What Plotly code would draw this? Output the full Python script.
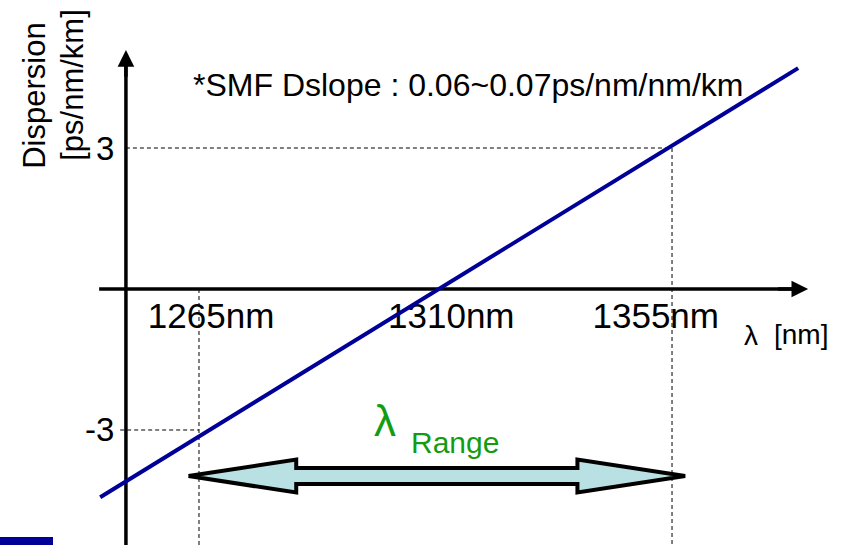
import plotly.graph_objects as go

# ---- data ----
wavelength_nm = [1246.2, 1379.0]          # ends of the dispersion line
dispersion = [-4.43, 4.70]                 # ps/nm/km at those ends
tick_wavelengths = [1265, 1310, 1355]
tick_wavelength_labels = ["1265nm", "1310nm", "1355nm"]
disp_ticks = [3, -3]
disp_tick_labels = ["3", "-3"]
range_lo, range_hi = 1265, 1355
slope_note = "*SMF Dslope : 0.06~0.07ps/nm/nm/km"

FONT = "Liberation Sans, Arial, sans-serif"
NAVY = "#000099"
GREEN = "#129c12"

X_RANGE = [1227.14, 1387.34]
Y_RANGE = [-5.447, 6.149]
Y_AXIS_X = 1251.1          # where the vertical axis sits
X_AXIS_START = 1246.0
X_AXIS_TIP = 1380.9
Y_AXIS_TIP = 5.085
BOTTOM = Y_RANGE[0] - 0.3

fig = go.Figure()

# dashed guide lines
dash = dict(color="black", width=1, dash="4px,3px")
fig.add_trace(go.Scatter(x=[range_lo, range_lo], y=[0, BOTTOM], mode="lines", line=dash, hoverinfo="skip"))
fig.add_trace(go.Scatter(x=[range_hi, range_hi], y=[disp_ticks[0], BOTTOM], mode="lines", line=dash, hoverinfo="skip"))
fig.add_trace(go.Scatter(x=[Y_AXIS_X, range_hi], y=[disp_ticks[0], disp_ticks[0]], mode="lines", line=dash, hoverinfo="skip"))
fig.add_trace(go.Scatter(x=[1250.0, range_lo], y=[disp_ticks[1], disp_ticks[1]], mode="lines", line=dash, hoverinfo="skip"))

# axes lines
fig.add_trace(go.Scatter(x=[X_AXIS_START, X_AXIS_TIP - 2], y=[0, 0], mode="lines",
                         line=dict(color="black", width=3.5), hoverinfo="skip"))
fig.add_trace(go.Scatter(x=[Y_AXIS_X, Y_AXIS_X], y=[BOTTOM, Y_AXIS_TIP - 0.2], mode="lines",
                         line=dict(color="black", width=3.5), hoverinfo="skip"))

# wavelength tick labels
fig.add_trace(go.Scatter(x=[t + d for t, d in zip(tick_wavelengths, [2.3, 3.0, -3.1])],
                         y=[-0.64] * 3, mode="text", text=tick_wavelength_labels,
                         textposition="middle center",
                         textfont=dict(family=FONT, size=35, color="black"), hoverinfo="skip"))

# double arrow for wavelength range
arrow_y = -3.98
over_l, over_r = 2.0, 2.5
head = 20.5
sh, hh = 0.17, 0.35
lt, rt = range_lo - over_l, range_hi + over_r
ax_x = [lt, lt + head, lt + head, rt - head, rt - head, rt, rt - head, rt - head, lt + head, lt + head, lt]
ax_y = [arrow_y, arrow_y + hh, arrow_y + sh, arrow_y + sh, arrow_y + hh, arrow_y,
        arrow_y - hh, arrow_y - sh, arrow_y - sh, arrow_y - hh, arrow_y]
fig.add_trace(go.Scatter(x=ax_x, y=ax_y, mode="lines", fill="toself", fillcolor="#b9e0e3",
                         line=dict(color="black", width=4), hoverinfo="skip"))

# dispersion line
fig.add_trace(go.Scatter(x=wavelength_nm, y=dispersion, mode="lines",
                         line=dict(color=NAVY, width=4), hoverinfo="skip"))

ann = []
# arrow heads
ann.append(dict(x=X_AXIS_TIP, y=0, ax=X_AXIS_TIP - 6, ay=0, xref="x", yref="y", axref="x", ayref="y",
                text="", showarrow=True, arrowhead=2, arrowsize=0.95, arrowwidth=3.5, arrowcolor="black"))
ann.append(dict(x=Y_AXIS_X, y=Y_AXIS_TIP, ax=Y_AXIS_X, ay=Y_AXIS_TIP - 0.6, xref="x", yref="y", axref="x", ayref="y",
                text="", showarrow=True, arrowhead=2, arrowsize=0.95, arrowwidth=3.5, arrowcolor="black"))

def txt(x, y, s, size, color="black", xanchor="center", angle=0, family=FONT):
    ann.append(dict(x=x, y=y, xref="x", yref="y", text=s, showarrow=False, xanchor=xanchor,
                    yanchor="middle", textangle=angle, font=dict(family=family, size=size, color=color)))

txt(1316.1, 4.34, slope_note, 32)
txt(1233.8, 4.11, "Dispersion", 31, angle=-90)
txt(1240.8, 4.34, "[ps/nm/km]", 31, angle=-90)
for v, lab in zip(disp_ticks, disp_tick_labels):
    ann.append(dict(x=1249.3, y=v, xref="x", yref="y", text=lab, showarrow=False, xanchor="right",
                    yanchor="middle", font=dict(family=FONT, size=33, color="black")))
txt(1370.0, -0.98, "λ", 28)
txt(1379.6, -0.96, "[nm]", 28)
txt(1300.4, -2.79, "λ", 44, color=GREEN)
txt(1313.7, -3.26, "Range", 30, color=GREEN)

fig.update_layout(
    width=842, height=545,
    margin=dict(l=0, r=0, t=0, b=0),
    paper_bgcolor="white", plot_bgcolor="white",
    showlegend=False,
    xaxis=dict(range=X_RANGE, visible=False, fixedrange=True),
    yaxis=dict(range=Y_RANGE, visible=False, fixedrange=True),
    annotations=ann,
    shapes=[dict(type="rect", xref="paper", yref="paper", x0=0, x1=53 / 842, y0=0, y1=8 / 545,
                 fillcolor=NAVY, line=dict(width=0))],
)

fig.write_html("out.html", config={"displayModeBar": False},
               post_script="document.body.style.margin='0';document.body.style.overflow='hidden';")
